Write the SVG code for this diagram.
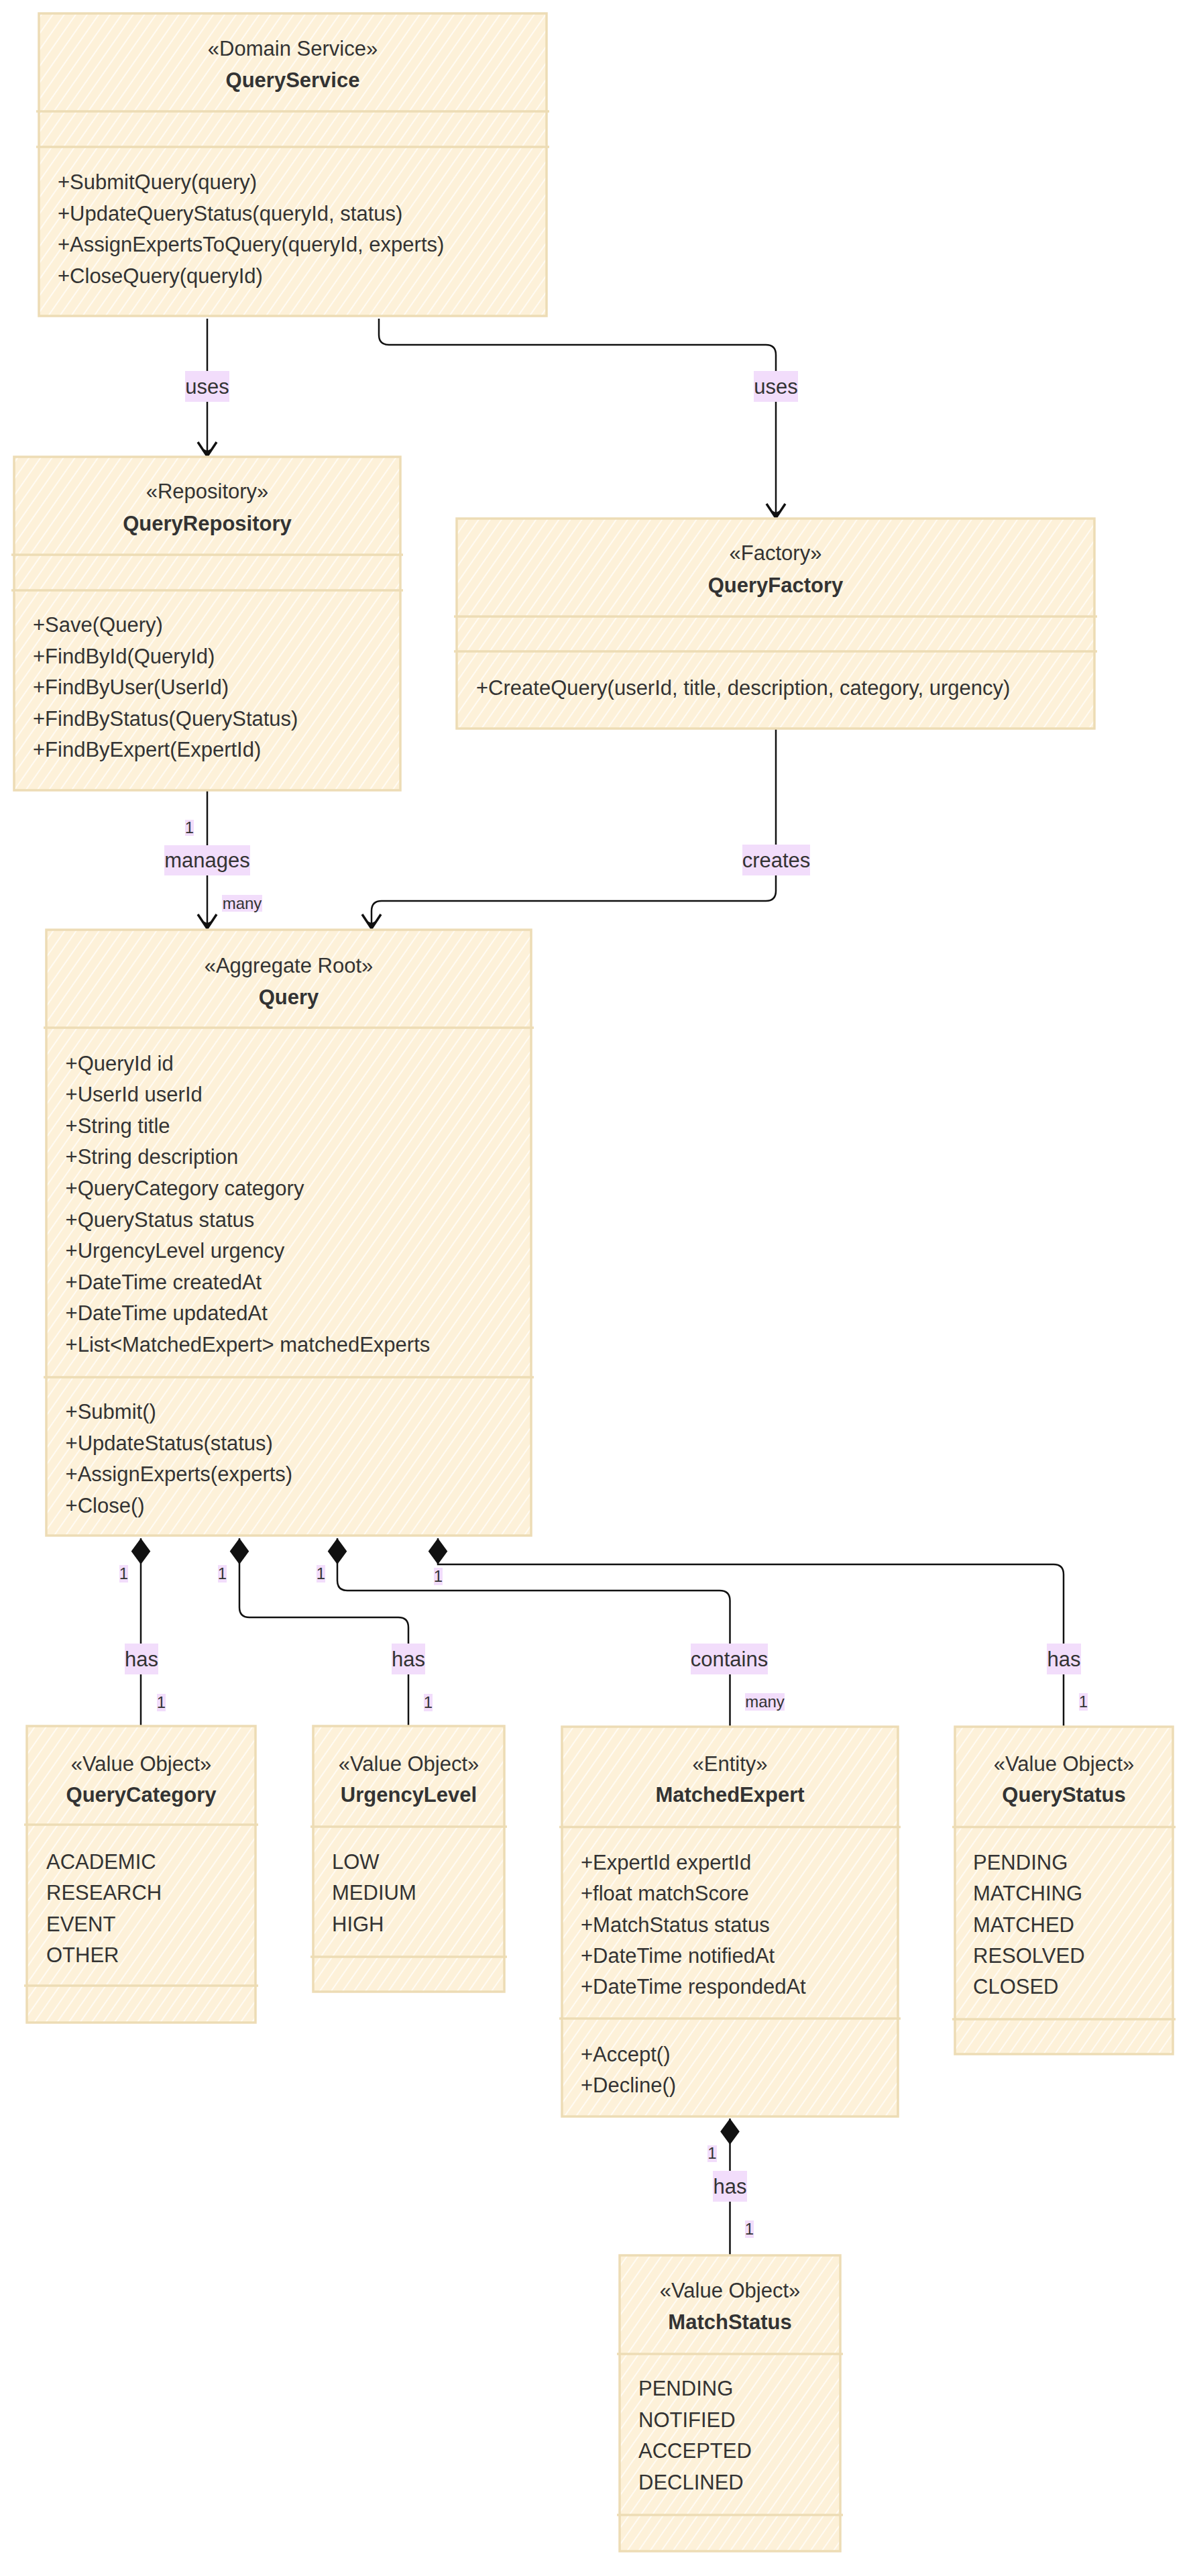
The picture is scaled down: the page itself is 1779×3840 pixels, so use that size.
<svg xmlns="http://www.w3.org/2000/svg" xmlns:xlink="http://www.w3.org/1999/xlink" width="1779" height="3840" viewBox="0 0 1779 3840">
  <defs>
    <style>
      .box { fill: url(#hatch); stroke: #eddcb5; stroke-width: 3.5; }
      .div { stroke: #eddcb5; stroke-width: 3.5; fill: none; }
      .t { font-family: "Liberation Sans", Arial, sans-serif; font-size: 31px; fill: #333333; }
      .st { text-anchor: middle; }
      .nm { text-anchor: middle; font-weight: bold; }
      .edge { fill: none; stroke: #111111; stroke-width: 2.5; }
      .lblbg { fill: #f2ddfb; }
      .lbl { font-family: "Liberation Sans", Arial, sans-serif; font-size: 31px; fill: #333333; text-anchor: middle; }
      .card { font-family: "Liberation Sans", Arial, sans-serif; font-size: 24px; fill: #333333; text-anchor: middle; }
    </style>
    <pattern id="hatch" patternUnits="userSpaceOnUse" width="14" height="40" patternTransform="rotate(35)">
      <rect width="14" height="40" fill="#fdf1d9"/>
      <line x1="7" y1="0" x2="7" y2="40" stroke="#fffbf3" stroke-width="2"/>
    </pattern>
    <marker id="arrow" markerUnits="userSpaceOnUse" viewBox="-26 -18 30 36" refX="0" refY="0" markerWidth="30" markerHeight="36" orient="auto">
      <path d="M-21,-14 L0,0 L-21,14" fill="none" stroke="#111111" stroke-width="3.5" stroke-linejoin="miter"/>
      <path d="M0,0 L-11,-6 L-8,0 L-11,6 Z" fill="#111111"/>
    </marker>
    <marker id="diamond" markerUnits="userSpaceOnUse" viewBox="-1 -16 42 32" refX="0" refY="0" markerWidth="42" markerHeight="32" orient="auto">
      <path d="M0,0 L19.5,-14.3 L39,0 L19.5,14.3 Z" fill="#111111"/>
    </marker>
  </defs>

  <rect width="1779" height="3840" fill="#ffffff"/>

  <!-- connectors -->
  <g id="connectors">
    <path class="edge" d="M309,475 L309,680" marker-end="url(#arrow)"/>
    <path class="edge" d="M565,475 L565,499 Q565,514 580,514 L1142,514 Q1157,514 1157,529 L1157,772" marker-end="url(#arrow)"/>
    <path class="edge" d="M309,1179 L309,1384" marker-end="url(#arrow)"/>
    <path class="edge" d="M1157,1086 L1157,1328 Q1157,1343 1142,1343 L569,1343 Q554,1343 554,1358 L554,1384" marker-end="url(#arrow)"/>

    <path class="edge" d="M210,2293 L210,2572" marker-start="url(#diamond)"/>
    <path class="edge" d="M357,2293 L357,2396 Q357,2411 372,2411 L594,2411 Q609,2411 609,2426 L609,2572" marker-start="url(#diamond)"/>
    <path class="edge" d="M503,2293 L503,2356 Q503,2371 518,2371 L1073,2371 Q1088.5,2371 1088.5,2386 L1088.5,2573" marker-start="url(#diamond)"/>
    <path class="edge" d="M653,2293 L653,2332 L1571,2332 Q1586,2332 1586,2347 L1586,2573" marker-start="url(#diamond)"/>
    <path class="edge" d="M1088.5,3158 L1088.5,3361" marker-start="url(#diamond)"/>

    <!-- edge labels -->
    <rect class="lblbg" x="276" y="553" width="66" height="46"/>
    <text class="lbl" x="309" y="587">uses</text>
    <rect class="lblbg" x="1124" y="553" width="66" height="46"/>
    <text class="lbl" x="1157" y="587">uses</text>

    <rect class="lblbg" x="276" y="1222" width="13" height="24"/>
    <text class="card" x="282.5" y="1242">1</text>
    <rect class="lblbg" x="245" y="1260" width="128" height="45"/>
    <text class="lbl" x="309" y="1293">manages</text>
    <rect class="lblbg" x="331" y="1334" width="60" height="25"/>
    <text class="card" x="361" y="1355">many</text>

    <rect class="lblbg" x="1107" y="1259" width="101" height="46"/>
    <text class="lbl" x="1157.5" y="1293">creates</text>

    <rect class="lblbg" x="178" y="2333" width="13" height="26"/>
    <text class="card" x="184.5" y="2354">1</text>
    <rect class="lblbg" x="186" y="2450" width="50" height="46"/>
    <text class="lbl" x="211" y="2484">has</text>
    <rect class="lblbg" x="234" y="2525" width="13" height="26"/>
    <text class="card" x="240.5" y="2546">1</text>

    <rect class="lblbg" x="325" y="2333" width="13" height="26"/>
    <text class="card" x="331.5" y="2354">1</text>
    <rect class="lblbg" x="584" y="2450" width="50" height="46"/>
    <text class="lbl" x="609" y="2484">has</text>
    <rect class="lblbg" x="632" y="2525" width="13" height="26"/>
    <text class="card" x="638.5" y="2546">1</text>

    <rect class="lblbg" x="472" y="2333" width="13" height="26"/>
    <text class="card" x="478.5" y="2354">1</text>
    <rect class="lblbg" x="1030" y="2450" width="115" height="46"/>
    <text class="lbl" x="1087.5" y="2484">contains</text>
    <rect class="lblbg" x="1111" y="2524" width="59" height="26"/>
    <text class="card" x="1140.5" y="2545">many</text>

    <rect class="lblbg" x="647" y="2337" width="13" height="26"/>
    <text class="card" x="653.5" y="2358">1</text>
    <rect class="lblbg" x="1561" y="2450" width="51" height="46"/>
    <text class="lbl" x="1586.5" y="2484">has</text>
    <rect class="lblbg" x="1609" y="2524" width="13" height="26"/>
    <text class="card" x="1615.5" y="2545">1</text>

    <rect class="lblbg" x="1055" y="3198" width="14" height="25"/>
    <text class="card" x="1062" y="3218">1</text>
    <rect class="lblbg" x="1063" y="3236" width="51" height="46"/>
    <text class="lbl" x="1088.5" y="3270">has</text>
    <rect class="lblbg" x="1111" y="3310" width="13" height="26"/>
    <text class="card" x="1117.5" y="3331">1</text>
  </g>

  <!-- QueryService -->
  <g id="QueryService">
    <rect class="box" x="58" y="20" width="757" height="451"/>
    <line class="div" x1="54" y1="166" x2="819" y2="166"/>
    <line class="div" x1="54" y1="219" x2="819" y2="219"/>
    <text class="t st" x="436.5" y="83">«Domain Service»</text>
    <text class="t nm" x="436.5" y="130">QueryService</text>
    <text class="t" x="86" y="282">+SubmitQuery(query)</text>
    <text class="t" x="86" y="328.6">+UpdateQueryStatus(queryId, status)</text>
    <text class="t" x="86" y="375.2">+AssignExpertsToQuery(queryId, experts)</text>
    <text class="t" x="86" y="421.8">+CloseQuery(queryId)</text>
  </g>

  <!-- QueryRepository -->
  <g id="QueryRepository">
    <rect class="box" x="21" y="681" width="576" height="497"/>
    <line class="div" x1="17" y1="827" x2="601" y2="827"/>
    <line class="div" x1="17" y1="880" x2="601" y2="880"/>
    <text class="t st" x="309" y="743">«Repository»</text>
    <text class="t nm" x="309" y="791">QueryRepository</text>
    <text class="t" x="49" y="942">+Save(Query)</text>
    <text class="t" x="49" y="988.6">+FindById(QueryId)</text>
    <text class="t" x="49" y="1035.2">+FindByUser(UserId)</text>
    <text class="t" x="49" y="1081.8">+FindByStatus(QueryStatus)</text>
    <text class="t" x="49" y="1128.4">+FindByExpert(ExpertId)</text>
  </g>

  <!-- QueryFactory -->
  <g id="QueryFactory">
    <rect class="box" x="681" y="773" width="951" height="313"/>
    <line class="div" x1="677" y1="919" x2="1636" y2="919"/>
    <line class="div" x1="677" y1="971" x2="1636" y2="971"/>
    <text class="t st" x="1156.5" y="835">«Factory»</text>
    <text class="t nm" x="1156.5" y="883">QueryFactory</text>
    <text class="t" x="710" y="1035.5">+CreateQuery(userId, title, description, category, urgency)</text>
  </g>

  <!-- Query -->
  <g id="Query">
    <rect class="box" x="69" y="1386" width="723" height="903"/>
    <line class="div" x1="65" y1="1532" x2="796" y2="1532"/>
    <line class="div" x1="65" y1="2053" x2="796" y2="2053"/>
    <text class="t st" x="430.5" y="1450">«Aggregate Root»</text>
    <text class="t nm" x="430.5" y="1497">Query</text>
    <text class="t" x="97.6" y="1595.5">+QueryId id</text>
    <text class="t" x="97.6" y="1642.1">+UserId userId</text>
    <text class="t" x="97.6" y="1688.7">+String title</text>
    <text class="t" x="97.6" y="1735.3">+String description</text>
    <text class="t" x="97.6" y="1781.9">+QueryCategory category</text>
    <text class="t" x="97.6" y="1828.5">+QueryStatus status</text>
    <text class="t" x="97.6" y="1875.1">+UrgencyLevel urgency</text>
    <text class="t" x="97.6" y="1921.7">+DateTime createdAt</text>
    <text class="t" x="97.6" y="1968.3">+DateTime updatedAt</text>
    <text class="t" x="97.6" y="2014.9">+List&lt;MatchedExpert&gt; matchedExperts</text>
    <text class="t" x="97.6" y="2115">+Submit()</text>
    <text class="t" x="97.6" y="2161.6">+UpdateStatus(status)</text>
    <text class="t" x="97.6" y="2208.2">+AssignExperts(experts)</text>
    <text class="t" x="97.6" y="2254.8">+Close()</text>
  </g>

  <!-- QueryCategory -->
  <g id="QueryCategory">
    <rect class="box" x="40" y="2573" width="341" height="442"/>
    <line class="div" x1="36" y1="2720" x2="385" y2="2720"/>
    <line class="div" x1="36" y1="2960" x2="385" y2="2960"/>
    <text class="t st" x="210.5" y="2640">«Value Object»</text>
    <text class="t nm" x="210.5" y="2686">QueryCategory</text>
    <text class="t" x="69" y="2786">ACADEMIC</text>
    <text class="t" x="69" y="2832.3">RESEARCH</text>
    <text class="t" x="69" y="2878.6">EVENT</text>
    <text class="t" x="69" y="2924.9">OTHER</text>
  </g>

  <!-- UrgencyLevel -->
  <g id="UrgencyLevel">
    <rect class="box" x="467" y="2573" width="285" height="396"/>
    <line class="div" x1="463" y1="2723" x2="756" y2="2723"/>
    <line class="div" x1="463" y1="2917" x2="756" y2="2917"/>
    <text class="t st" x="609.5" y="2640">«Value Object»</text>
    <text class="t nm" x="609.5" y="2686">UrgencyLevel</text>
    <text class="t" x="495" y="2786">LOW</text>
    <text class="t" x="495" y="2832.3">MEDIUM</text>
    <text class="t" x="495" y="2878.6">HIGH</text>
  </g>

  <!-- MatchedExpert -->
  <g id="MatchedExpert">
    <rect class="box" x="838" y="2574" width="501" height="581"/>
    <line class="div" x1="834" y1="2723.6" x2="1343" y2="2723.6"/>
    <line class="div" x1="834" y1="3009" x2="1343" y2="3009"/>
    <text class="t st" x="1088.5" y="2640">«Entity»</text>
    <text class="t nm" x="1088.5" y="2686">MatchedExpert</text>
    <text class="t" x="866" y="2786.7">+ExpertId expertId</text>
    <text class="t" x="866" y="2833.1">+float matchScore</text>
    <text class="t" x="866" y="2879.5">+MatchStatus status</text>
    <text class="t" x="866" y="2925.9">+DateTime notifiedAt</text>
    <text class="t" x="866" y="2972.3">+DateTime respondedAt</text>
    <text class="t" x="866" y="3072.5">+Accept()</text>
    <text class="t" x="866" y="3119">+Decline()</text>
  </g>

  <!-- QueryStatus -->
  <g id="QueryStatus">
    <rect class="box" x="1424" y="2574" width="325" height="488"/>
    <line class="div" x1="1420" y1="2723.6" x2="1753" y2="2723.6"/>
    <line class="div" x1="1420" y1="3010" x2="1753" y2="3010"/>
    <text class="t st" x="1586.5" y="2640">«Value Object»</text>
    <text class="t nm" x="1586.5" y="2686">QueryStatus</text>
    <text class="t" x="1451" y="2786.7">PENDING</text>
    <text class="t" x="1451" y="2833.1">MATCHING</text>
    <text class="t" x="1451" y="2879.5">MATCHED</text>
    <text class="t" x="1451" y="2925.9">RESOLVED</text>
    <text class="t" x="1451" y="2972.3">CLOSED</text>
  </g>

  <!-- MatchStatus -->
  <g id="MatchStatus">
    <rect class="box" x="924" y="3362" width="329" height="441"/>
    <line class="div" x1="920" y1="3509" x2="1257" y2="3509"/>
    <line class="div" x1="920" y1="3749" x2="1257" y2="3749"/>
    <text class="t st" x="1088.5" y="3425">«Value Object»</text>
    <text class="t nm" x="1088.5" y="3472">MatchStatus</text>
    <text class="t" x="952" y="3571">PENDING</text>
    <text class="t" x="952" y="3617.5">NOTIFIED</text>
    <text class="t" x="952" y="3664">ACCEPTED</text>
    <text class="t" x="952" y="3710.5">DECLINED</text>
  </g>
</svg>
